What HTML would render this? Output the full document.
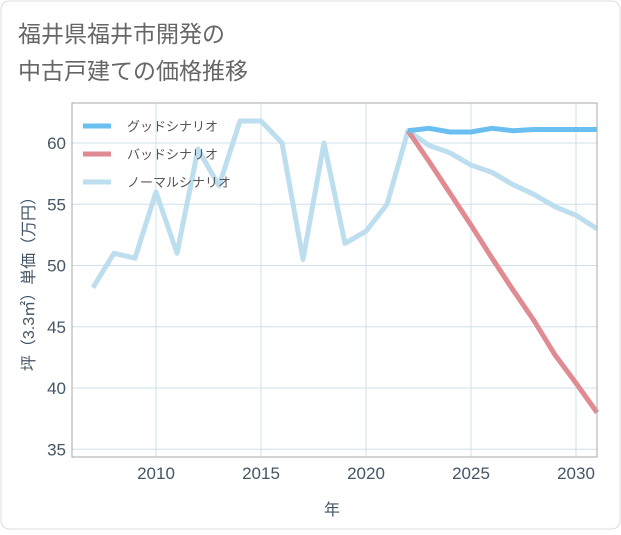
<!DOCTYPE html>
<html><head><meta charset="utf-8"><style>
body{margin:0;background:#fff;}
svg text{font-family:"Liberation Sans","Noto Sans CJK JP",sans-serif;}
</style></head><body>
<svg width="621" height="530" id="c">
<rect x="1" y="1" width="619" height="528" rx="8" fill="#fff" stroke="#ddd"/>
<text x="18" y="42" font-size="23" fill="#666">福井県福井市開発の</text>
<text x="18" y="79" font-size="23" fill="#666">中古戸建ての価格推移</text>
<g id="grid"></g><g id="series"></g>
<rect x="72" y="103" width="525" height="354" fill="none" stroke="#aaa"/>
<g id="legend">
<line x1="83" y1="126" x2="111" y2="126" stroke="#6bbef0" stroke-width="5"/>
<text x="127" y="131" font-size="13" fill="#555">グッドシナリオ</text>
<line x1="83" y1="154" x2="111" y2="154" stroke="#e08a92" stroke-width="5"/>
<text x="127" y="159" font-size="13" fill="#555">バッドシナリオ</text>
<line x1="83" y1="182" x2="111" y2="182" stroke="#bcdeee" stroke-width="5"/>
<text x="127" y="187" font-size="13" fill="#555">ノーマルシナリオ</text>
</g>
<text x="332" y="515" font-size="16" fill="#456" text-anchor="middle">年</text>
<text transform="translate(34,280) rotate(-90)" font-size="16" fill="#456" text-anchor="middle">坪（3.3㎡）単価（万円）</text>
</svg>
<script>
const normalYears=[2007,2008,2009,2010,2011,2012,2013,2014,2015,2016,2017,2018,2019,2020,2021,2022,2023,2024,2025,2026,2027,2028,2029,2030,2031];
const normalVals=[48.2,51.0,50.6,56.0,51.0,59.5,56.5,61.8,61.8,60.0,50.5,60.0,51.8,52.8,55.0,61.0,59.8,59.2,58.2,57.6,56.6,55.8,54.8,54.1,53.0];
const scenYears=[2022,2023,2024,2025,2026,2027,2028,2029,2030,2031];
const goodVals=[61.0,61.2,60.9,60.9,61.2,61.0,61.1,61.1,61.1,61.1];
const badVals=[61.0,58.5,55.9,53.3,50.6,48.0,45.5,42.7,40.4,38.0];
const xTicks=[2010,2015,2020,2025,2030];
const yTicks=[35,40,45,50,55,60];
const X=v=>72+(v-2006)*21;
const Y=v=>143-(v-60)*12.25;
const NS='http://www.w3.org/2000/svg';
const grid=document.getElementById('grid'),ser=document.getElementById('series');
function mk(tag,attrs,parent){const e=document.createElementNS(NS,tag);for(const k in attrs)e.setAttribute(k,attrs[k]);parent.appendChild(e);return e;}
xTicks.forEach(t=>{
 const l=mk('line',{x1:X(t),x2:X(t),y1:103,y2:457,stroke:'#cfe0ea'},grid);
 
 
 const tx=mk('text',{x:X(t),y:479,'font-size':17,fill:'#456','text-anchor':'middle'},grid);tx.textContent=t;
 
 
});
yTicks.forEach(t=>{
 const l=mk('line',{x1:72,x2:597,y1:Y(t),y2:Y(t),stroke:'#cfe0ea'},grid);
 
 
 const tx=mk('text',{x:66,y:Y(t)+6,'font-size':17,fill:'#456','text-anchor':'end'},grid);tx.textContent=t;
 
 
});
function line(xs,vs,col,name){
 const p=mk('polyline',{points:xs.map((x,i)=>X(x)+','+Y(vs[i])).join(' '),fill:'none',stroke:col,'stroke-width':5,'stroke-linejoin':'round'},ser);
 
 
}
line(normalYears,normalVals,'#bcdeee','normal-line');
line(scenYears,badVals,'#e08a92','bad-line');
line(scenYears,goodVals,'#6bbef0','good-line');
</script>
</body></html>
